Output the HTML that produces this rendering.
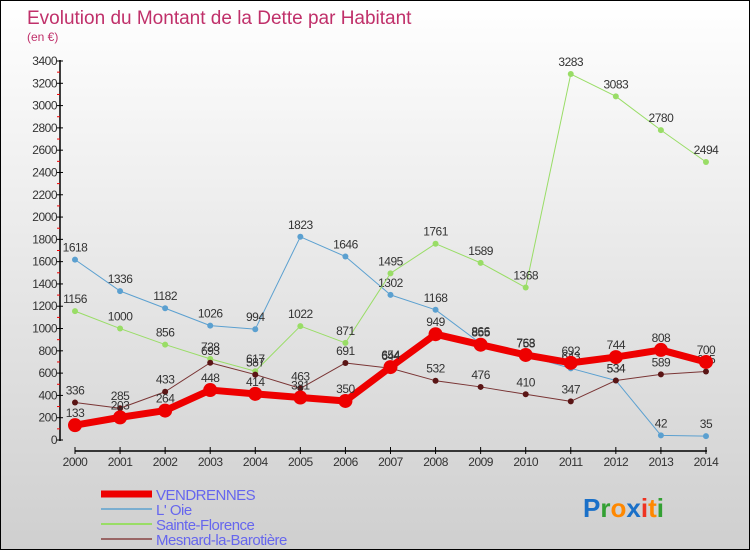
<!DOCTYPE html>
<html><head><meta charset="utf-8"><style>
html,body{margin:0;padding:0}
body{width:750px;height:550px;overflow:hidden}
#c{position:absolute;left:0;top:0;width:748px;height:548px;border:1px solid #000;background:linear-gradient(#ffffff,#cfcfcf);font-family:"Liberation Sans",sans-serif}
</style></head><body><div id="c"><svg id="s" width="748" height="548" xmlns="http://www.w3.org/2000/svg" style="position:absolute;left:0;top:0"></svg></div>
<script>
var s=document.getElementById('s'),h='';
function X(i){return 74+i*45.07}
function Y(v){return 439-v*379/3400}
h+='<text x="26" y="23" font-size="19" fill="#c0306a" font-family="Liberation Sans,sans-serif" font-weight="300">Evolution du Montant de la Dette par Habitant</text>';
h+='<text x="26" y="40" font-size="12" fill="#c0306a">(en €)</text>';
h+='<line x1="59" y1="59" x2="59" y2="440" stroke="#000" stroke-width="1.5"/>';
for(var v=0;v<=3400;v+=200){var y=Y(v);h+='<line x1="56" y1="'+y+'" x2="62" y2="'+y+'" stroke="#000"/><text x="56" y="'+(y+4)+'" font-size="12" fill="#333" text-anchor="end" letter-spacing="-0.5">'+v+'</text>';
if(v<3400)h+='<line x1="56" y1="'+Y(v+100)+'" x2="59" y2="'+Y(v+100)+'" stroke="#e00"/>';}
h+='<line x1="74" y1="450" x2="706" y2="450" stroke="#000" stroke-width="1.5"/>';
for(var i=0;i<15;i++){h+='<line x1="'+X(i)+'" y1="446" x2="'+X(i)+'" y2="453" stroke="#000"/><text x="'+X(i)+'" y="465" font-size="12" fill="#333" text-anchor="middle" letter-spacing="-0.5">'+(2000+i)+'</text>';}
var D=[
{c:'#5ba0d0',w:1,r:3,d:[1618,1336,1182,1026,994,1823,1646,1302,1168,866,758,643,534,42,35]},
{c:'#99dd66',w:1,r:3,d:[1156,1000,856,728,617,1022,871,1495,1761,1589,1368,3283,3083,2780,2494]},
{c:'#7a3535',w:1,r:3,pc:'#5a1515',d:[336,285,433,693,587,463,691,644,532,476,410,347,534,589,615]},
{c:'#ee0000',w:7,r:7,d:[133,203,264,448,414,381,350,654,949,855,763,692,744,808,700]}];
D.forEach(function(o){var p=o.d.map(function(v,i){return X(i)+','+Y(v)}).join(' ');
h+='<polyline points="'+p+'" fill="none" stroke="'+o.c+'" stroke-width="'+o.w+'" stroke-linejoin="round"/>';
o.d.forEach(function(v,i){h+='<circle cx="'+X(i)+'" cy="'+Y(v)+'" r="'+o.r+'" fill="'+(o.pc||o.c)+'"/>';
h+='<text x="'+X(i)+'" y="'+(Y(v)-8)+'" font-size="12" fill="#333" text-anchor="middle" letter-spacing="-0.5">'+v+'</text>';});});
var L=[['VENDRENNES','#ee0000',7],["L' Oie",'#7aaed0',2],['Sainte-Florence','#99dd66',2],['Mesnard-la-Barotière','#996666',2]];
L.forEach(function(l,i){var y=493+i*15;h+='<line x1="100" y1="'+y+'" x2="151" y2="'+y+'" stroke="'+l[1]+'" stroke-width="'+l[2]+'"/><text x="155" y="'+(y+6)+'" font-size="15" fill="#6666ee" letter-spacing="-0.5">'+l[0]+'</text>';});
h+='<text x="582" y="516" font-size="26" font-weight="bold" font-family="Liberation Sans,sans-serif"><tspan fill="#1a70c8">P</tspan><tspan fill="#33a033">r</tspan><tspan fill="#ff8800">o</tspan><tspan fill="#1a70c8">x</tspan><tspan fill="#ee3322">i</tspan><tspan fill="#ff8800">t</tspan><tspan fill="#33a033">i</tspan></text>';
s.innerHTML=h;
</script></body></html>
